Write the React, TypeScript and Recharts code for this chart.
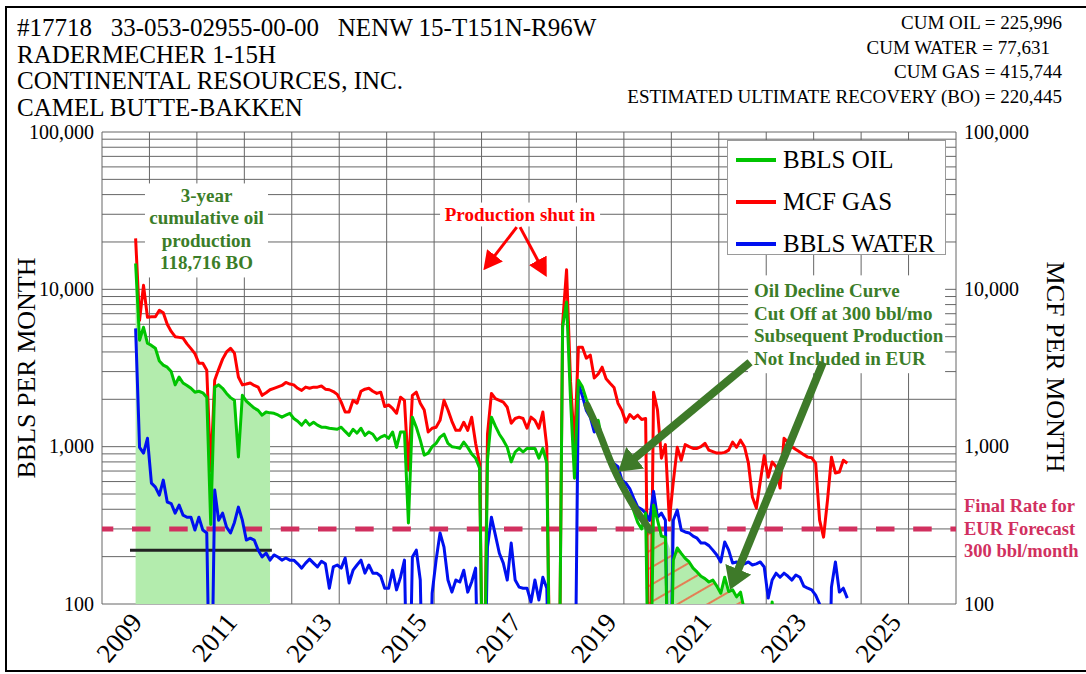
import React from "react";
import {
  ComposedChart,
  Line,
  Area,
  XAxis,
  YAxis,
  CartesianGrid,
  ReferenceLine,
  ReferenceArea,
  Legend,
} from "recharts";

const FONT = '"Liberation Serif", "Times New Roman", serif';
const OIL_COLOR = "#00c400";
const GAS_COLOR = "#ff0000";
const WATER_COLOR = "#0010f0";
const NOTE_GREEN = "#3b7d28";
const ARROW_GREEN = "#3e7a29";
const CUTOFF_PINK = "#d1305f";
const SHADE_GREEN = "#b3ecad";

// monthly production, first month = Sep 2008 (plotted mid-month)
const FIRST_MONTH_INDEX = 8;

const oil = [
  14600, 4750, 5740, 4540, 4400, 4220, 3500, 3300, 3200, 3000,
  2470, 2770, 2540, 2450, 2350, 2220, 2250, 2200, 2060, 320,
  2390, 2470, 2350, 2180, 2050, 1970, 860, 2120, 1950, 1850,
  1760, 1700, 1585, 1660, 1640, 1630, 1590, 1540, 1585, 1630,
  1510, 1450, 1370, 1470, 1370, 1430, 1370, 1330, 1330, 1310,
  1300, 1290, 1330, 1250, 1180, 1290, 1220, 1310, 1180, 1240,
  1200, 1100, 1150, 1180, 1130, 1240, 990, 1240, 1240, 327,
  1540, 1330, 1100, 883, 910, 1000, 1050, 1150, 1200, 1050,
  1000, 990, 975, 1070, 990, 900, 845, 730, 10, 820,
  1540, 1350, 1200, 1100, 990, 800, 925, 975, 925, 975,
  975, 975, 845, 975, 785, 10, 10, 10, 5770, 8300,
  2000, 630, 2640, 2400, 2000, 1700, 1410, 1470, 1100, 950,
  830, 710, 600, 540, 500, 450, 390, 330, 300, 378,
  10, 425, 341, 270, 266, 10, 190, 227, 210, 195,
  185, 169, 160, 150, 145, 138, 142, 130, 117, 148,
  120, 123, 111, 119, 90, 60, 50, 50, 50, 50,
  50, 103, 50, 50, 50, 50, 50, 50, 50, 50,
  50, 50, 50, 50, 50, 50, 50, 50, 50, 50, 50,
];

const gas = [
  21100, 6350, 10600, 6640, 6700, 6700, 7360, 7100, 6000, 5400,
  5000, 4950, 4900, 4500, 4200, 3900, 3390, 3390, 3060, 700,
  2640, 3100, 3600, 4000, 4220, 3930, 2770, 2470, 2500, 2540,
  2450, 2390, 2120, 2200, 2300, 2350, 2400, 2450, 2560, 2500,
  2470, 2350, 2280, 2390, 2350, 2390, 2390, 2430, 2320, 2300,
  2240, 2150, 1920, 1660, 1660, 1970, 1890, 2250, 2320, 2350,
  2250, 2180, 2220, 1800, 1840, 1750, 1630, 2060, 1970, 710,
  2120, 2220, 1890, 1710, 1240, 1310, 1330, 1470, 1970, 1710,
  1450, 1270, 1270, 1430, 1270, 1540, 1050, 785, 10, 1200,
  2180, 2020, 1970, 1920, 1780, 1410, 1510, 1540, 1510, 1310,
  1540, 1470, 1310, 1660, 1000, 10, 10, 10, 6080, 13300,
  2600, 1000, 4280, 4280, 3650, 3820, 2730, 2900, 3200, 2700,
  2530, 2380, 1890, 1700, 1430, 1600, 1510, 1585, 1490, 1510,
  10, 2220, 1710, 845, 1030, 341, 600, 990, 820, 1030,
  1000, 975, 975, 1000, 1050, 950, 930, 910, 910, 920,
  950, 1070, 990, 1100, 1000, 785, 478, 407, 600, 880,
  640, 800, 745, 546, 1130, 1070, 1000, 960, 925, 890,
  858, 850, 785, 341, 266, 457, 858, 680, 690, 820, 785,
];

const water = [
  5650, 990, 910, 1130, 586, 553, 492, 613, 445, 435,
  378, 425, 367, 356, 356, 295, 356, 295, 283, 10,
  530, 341, 378, 308, 283, 330, 413, 341, 255, 262,
  255, 220, 199, 211, 190, 205, 199, 190, 196, 190,
  190, 180, 169, 182, 193, 182, 172, 187, 180, 126,
  172, 177, 169, 196, 136, 164, 177, 190, 157, 177,
  157, 157, 150, 126, 126, 164, 123, 148, 190, 10,
  199, 220, 142, 10, 10, 117, 190, 283, 230, 142,
  119, 142, 138, 164, 119, 138, 169, 10, 10, 230,
  356, 274, 210, 182, 142, 244, 142, 128, 126, 126,
  103, 142, 106, 148, 126, 10, 10, 10, 10, 10,
  10, 10, 2530, 2100, 1700, 1540, 1240, 1330, 1050, 950,
  845, 780, 745, 613, 586, 540, 470, 413, 400, 378,
  340, 520, 356, 378, 341, 10, 341, 395, 295, 287,
  283, 270, 262, 244, 244, 235, 220, 205, 185, 248,
  220, 182, 185, 177, 180, 185, 177, 180, 185, 172,
  109, 142, 157, 148, 157, 150, 142, 153, 148, 130,
  126, 123, 114, 100, 10, 10, 128, 185, 119, 126, 109,
];

// first three years shaded (cumulative 118,716 BO)
const CUM3_MONTHS = 35;

// oil below the 300 bbl/mo cut-off, not in the EUR (hatched), starting Jun 2019
const TAIL_START = 129;
const oilTail = [
  300, 290, 300, 290, 270, 266, 230, 190, 227, 210, 195, 185, 169,
  160, 150, 145, 138, 142, 130, 117, 148, 120, 123, 111, 119, 95,
];

// fitted decline curve
const declineYears = [2018.224, 2018.434, 2018.772, 2019.13, 2019.551];
const declineRates = [1834, 1330, 740, 458, 295];

const CUTOFF = 300;
const THREE_YEAR_AVG = 220;

const yearTicks = [
  2008, 2009, 2010, 2011, 2012, 2013, 2014, 2015, 2016, 2017,
  2018, 2019, 2020, 2021, 2022, 2023, 2024, 2025, 2026,
];
const labelledYears = [2009, 2011, 2013, 2015, 2017, 2019, 2021, 2023, 2025];
const rateTicks = [
  100, 200, 300, 400, 500, 600, 700, 800, 900,
  1000, 2000, 3000, 4000, 5000, 6000, 7000, 8000, 9000,
  10000, 20000, 30000, 40000, 50000, 60000, 70000, 80000, 90000, 100000,
];
const labelledRates = [100, 1000, 10000, 100000];

const titleLines = [
  "#17718   33-053-02955-00-00   NENW 15-T151N-R96W",
  "RADERMECHER 1-15H",
  "CONTINENTAL RESOURCES, INC.",
  "CAMEL BUTTE-BAKKEN",
];
const cumLines = [
  "CUM OIL = 225,996",
  "CUM WATER = 77,631",
  "CUM GAS = 415,744",
  "ESTIMATED ULTIMATE RECOVERY (BO) = 220,445",
];
const threeYearNote = ["3-year", "cumulative oil", "production", "118,716 BO"];
const shutInNote = ["Production shut in"];
const declineNote = [
  "Oil Decline Curve",
  "Cut Off at 300 bbl/mo",
  "Subsequent Production",
  "Not Included in EUR",
];
const finalRateNote = ["Final Rate for", "EUR Forecast", "300 bbl/month"];

const legendItems = [
  { name: "BBLS OIL", color: OIL_COLOR },
  { name: "MCF GAS", color: GAS_COLOR },
  { name: "BBLS WATER", color: WATER_COLOR },
];

const greenArrows = [
  { from: [2021.659, 3440], to: [2019.222, 843] },
  { from: [2023.198, 3440], to: [2021.404, 164] },
];
const redArrows = [
  { from: [2016.742, 24860], to: [2016.27, 16270] },
  { from: [2016.811, 24860], to: [2017.195, 15100] },
];

const rows = oil.map((v, i) => ({
  t: 2008 + (FIRST_MONTH_INDEX + i + 0.5) / 12,
  oil: v,
  gas: gas[i],
  water: water[i],
  cum3: i < CUM3_MONTHS ? v : undefined,
  tail:
    i >= TAIL_START && i < TAIL_START + oilTail.length
      ? oilTail[i - TAIL_START]
      : undefined,
}));

const declineData = declineYears.map((t, i) => ({ t, v: declineRates[i] }));

const fmt = (n: number) => n.toLocaleString("en-US");

const YearTick = (p: any) => {
  if (!labelledYears.includes(p.payload.value)) return <g />;
  const x = p.x - 6;
  const y = p.y + 11;
  return (
    <text
      x={x}
      y={y}
      transform={`rotate(-50, ${x}, ${y})`}
      textAnchor="end"
      fontFamily={FONT}
      fontSize={27}
      fill="#000"
    >
      {p.payload.value}
    </text>
  );
};

const RateTick = (side: "left" | "right") => (p: any) => {
  if (!labelledRates.includes(p.payload.value)) return <g />;
  return (
    <text
      x={p.x}
      y={p.y + 6.6}
      textAnchor={side === "left" ? "end" : "start"}
      fontFamily={FONT}
      fontSize={20}
      fill="#000"
    >
      {fmt(p.payload.value)}
    </text>
  );
};

const noteBox =
  (
    lines: string[],
    color: string,
    anchor: "start" | "middle",
    firstY: number,
    gap = 22.5,
    size = 19
  ) =>
  (p: any) =>
    (
      <g>
        <rect x={p.x} y={p.y} width={p.width} height={p.height} fill="#fff" />
        {lines.map((s, i) => (
          <text
            key={s}
            x={anchor === "middle" ? p.x + p.width / 2 : p.x + 6}
            y={p.y + firstY + i * gap + size * 0.33}
            textAnchor={anchor}
            fill={color}
            fontFamily={FONT}
            fontWeight="bold"
            fontSize={size}
          >
            {s}
          </text>
        ))}
      </g>
    );

const FinalRateLabel = (p: any) => {
  const vb = p.viewBox || {};
  const x = (vb.x ?? 102) + (vb.width ?? 854) + 8;
  const y = vb.y ?? 529;
  return (
    <g>
      {finalRateNote.map((s, i) => (
        <text
          key={s}
          x={x}
          y={y + (i - 1) * 22.5 + 6}
          fill={CUTOFF_PINK}
          fontFamily={FONT}
          fontWeight="bold"
          fontSize={18.5}
        >
          {s}
        </text>
      ))}
    </g>
  );
};

const LegendBox = () => (
  <div
    style={{
      position: "relative",
      width: 219,
      height: 115,
      boxSizing: "border-box",
      border: "1px solid #9a9a9a",
      background: "#fff",
      fontFamily: FONT,
    }}
  >
    {legendItems.map((it, i) => (
      <div
        key={it.name}
        style={{
          position: "absolute",
          left: 0,
          top: -2 + i * 42,
          height: 42,
          lineHeight: "42px",
          whiteSpace: "nowrap",
        }}
      >
        <span
          style={{
            position: "absolute",
            left: 8,
            top: 19,
            width: 40,
            height: 4,
            background: it.color,
          }}
        />
        <span
          style={{
            position: "absolute",
            left: 55,
            fontSize: 25,
            fontFamily: FONT,
            color: "#000",
          }}
        >
          {it.name}
        </span>
      </div>
    ))}
  </div>
);

export default function App() {
  return (
    <div
      style={{
        position: "absolute",
        left: 0,
        top: 0,
        width: 1086,
        height: 674,
        overflow: "hidden",
        background: "#fff",
        fontFamily: FONT,
        color: "#000",
      }}
    >
      <div
        style={{
          position: "absolute",
          left: 5,
          top: 6,
          width: 1200,
          height: 662,
          border: "2px solid #000",
        }}
      />
      <div style={{ position: "absolute", left: 0, top: 0 }}>
        <ComposedChart
          width={1086}
          height={674}
          data={rows}
          margin={{ top: 132, right: 30, bottom: 10, left: 12 }}
          style={{ fontFamily: FONT }}
        >
          <defs>
            <pattern
              id="hatch"
              width="15"
              height="15"
              patternUnits="userSpaceOnUse"
              patternTransform="rotate(-30)"
            >
              <rect width="15" height="15" fill={SHADE_GREEN} />
              <line x1="0" y1="7" x2="15" y2="7" stroke="#f0643f" strokeWidth="1.6" />
            </pattern>
            <marker
              id="headGreen"
              markerUnits="userSpaceOnUse"
              markerWidth="22"
              markerHeight="28"
              refX="1"
              refY="14"
              orient="auto"
            >
              <path d="M0,0 L22,14 L0,28 z" fill={ARROW_GREEN} />
            </marker>
            <marker
              id="headRed"
              markerUnits="userSpaceOnUse"
              markerWidth="19"
              markerHeight="20"
              refX="1"
              refY="10"
              orient="auto"
            >
              <path d="M0,0 L19,10 L0,20 z" fill={GAS_COLOR} />
            </marker>
          </defs>
          <CartesianGrid stroke="#666" strokeWidth={1} />
          <XAxis
            type="number"
            dataKey="t"
            domain={[2008, 2026]}
            ticks={yearTicks}
            interval={0}
            allowDataOverflow
            axisLine={false}
            tickLine={false}
            height={60}
            tick={YearTick}
          />
          <YAxis
            type="number"
            scale="log"
            domain={[100, 100000]}
            ticks={rateTicks}
            interval={0}
            allowDataOverflow
            axisLine={false}
            tickLine={false}
            width={90}
            tick={RateTick("left")}
          />
          <YAxis
            yAxisId="right"
            orientation="right"
            type="number"
            scale="log"
            domain={[100, 100000]}
            ticks={rateTicks}
            interval={0}
            allowDataOverflow
            axisLine={false}
            tickLine={false}
            width={100}
            tick={RateTick("right")}
          />
          <Area
            dataKey="cum3"
            baseValue={100}
            fill={SHADE_GREEN}
            fillOpacity={1}
            stroke="none"
            legendType="none"
            isAnimationActive={false}
          />
          <Area
            dataKey="tail"
            baseValue={100}
            fill="url(#hatch)"
            fillOpacity={1}
            stroke="none"
            legendType="none"
            isAnimationActive={false}
          />
          <ReferenceArea
            x1={2008.906}
            x2={2011.499}
            y1={11900}
            y2={47100}
            ifOverflow="visible"
            shape={noteBox(threeYearNote, NOTE_GREEN, "middle", 12)}
          />
          <ReferenceArea
            x1={2015.125}
            x2={2018.498}
            y1={25100}
            y2={35600}
            ifOverflow="visible"
            shape={noteBox(shutInNote, GAS_COLOR, "middle", 12)}
          />
          <ReferenceArea
            x1={2021.617}
            x2={2025.77}
            y1={2930}
            y2={12270}
            ifOverflow="visible"
            shape={noteBox(declineNote, NOTE_GREEN, "start", 15.7)}
          />
          <ReferenceLine
            y={CUTOFF}
            stroke={CUTOFF_PINK}
            strokeWidth={5}
            strokeDasharray="18.5 18.7"
            strokeDashoffset={7.2}
            label={<FinalRateLabel />}
          />
          <ReferenceLine
            segment={[
              { x: 2008.59, y: THREE_YEAR_AVG },
              { x: 2011.58, y: THREE_YEAR_AVG },
            ]}
            stroke="#222"
            strokeWidth={3}
          />
          <Line
            dataKey="gas"
            name="MCF GAS"
            type="linear"
            stroke={GAS_COLOR}
            strokeWidth={3}
            strokeLinejoin="round"
            dot={false}
            activeDot={false}
            isAnimationActive={false}
          />
          <Line
            dataKey="water"
            name="BBLS WATER"
            type="linear"
            stroke={WATER_COLOR}
            strokeWidth={3}
            strokeLinejoin="round"
            dot={false}
            activeDot={false}
            isAnimationActive={false}
          />
          <Line
            dataKey="oil"
            name="BBLS OIL"
            type="linear"
            stroke={OIL_COLOR}
            strokeWidth={3}
            strokeLinejoin="round"
            dot={false}
            activeDot={false}
            isAnimationActive={false}
          />
          <Line
            data={declineData}
            dataKey="v"
            type="monotone"
            stroke={ARROW_GREEN}
            strokeWidth={7}
            strokeLinecap="round"
            dot={false}
            activeDot={false}
            legendType="none"
            isAnimationActive={false}
          />
          {greenArrows.map((a, i) => (
            <Line
              key={`g${i}`}
              data={[
                { t: a.from[0], v: a.from[1] },
                { t: a.to[0], v: a.to[1] },
              ]}
              dataKey="v"
              type="linear"
              stroke={ARROW_GREEN}
              strokeWidth={8}
              dot={false}
              activeDot={false}
              legendType="none"
              markerEnd="url(#headGreen)"
              isAnimationActive={false}
            />
          ))}
          {redArrows.map((a, i) => (
            <Line
              key={`r${i}`}
              data={[
                { t: a.from[0], v: a.from[1] },
                { t: a.to[0], v: a.to[1] },
              ]}
              dataKey="v"
              type="linear"
              stroke={GAS_COLOR}
              strokeWidth={3}
              dot={false}
              activeDot={false}
              legendType="none"
              markerEnd="url(#headRed)"
              isAnimationActive={false}
            />
          ))}
          <Legend
            layout="vertical"
            align="center"
            verticalAlign="middle"
            wrapperStyle={{ left: 727, top: 140, width: 219, height: 115 }}
            content={() => <LegendBox />}
          />
        </ComposedChart>
      </div>
      <div
        style={{
          position: "absolute",
          left: 17,
          top: 15,
          fontSize: 25,
          lineHeight: "26.5px",
          whiteSpace: "pre",
        }}
      >
        {titleLines.map((s) => (
          <div key={s}>{s}</div>
        ))}
      </div>
      <div
        style={{
          position: "absolute",
          right: 24,
          top: 11,
          fontSize: 19,
          lineHeight: "24.6px",
          textAlign: "right",
          whiteSpace: "pre",
        }}
      >
        {cumLines.map((s, i) => (
          <div key={s} style={{ paddingRight: i === 1 ? 12 : 0 }}>
            {s}
          </div>
        ))}
      </div>
      <div
        style={{
          position: "absolute",
          left: 27,
          top: 368,
          fontSize: 26,
          whiteSpace: "nowrap",
          transform: "translate(-50%, -50%) rotate(-90deg)",
        }}
      >
        BBLS PER MONTH
      </div>
      <div
        style={{
          position: "absolute",
          left: 1055,
          top: 367,
          fontSize: 26,
          whiteSpace: "nowrap",
          transform: "translate(-50%, -50%) rotate(90deg)",
        }}
      >
        MCF PER MONTH
      </div>
    </div>
  );
}
